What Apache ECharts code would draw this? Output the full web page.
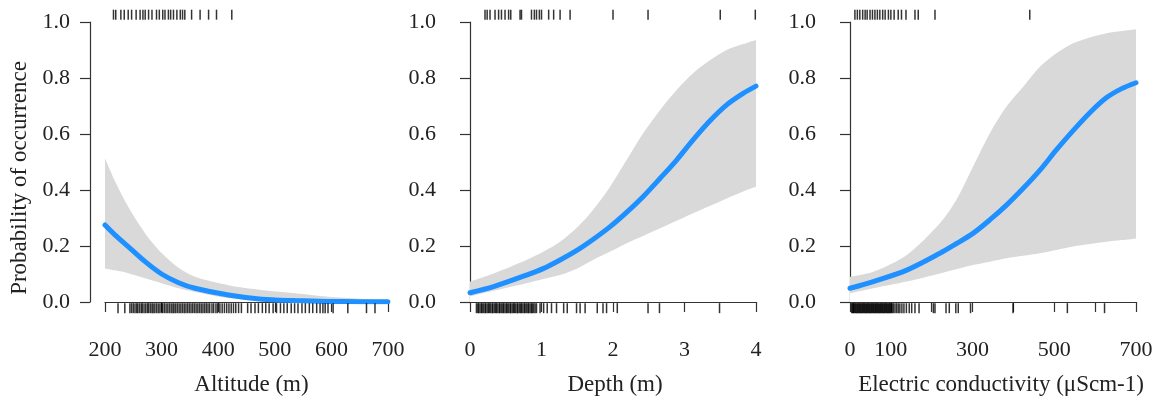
<!DOCTYPE html>
<html>
<head>
<meta charset="utf-8">
<title>Probability of occurrence</title>
<script src="https://cdn.jsdelivr.net/npm/echarts@6.0.0/dist/echarts.min.js"></script>
<style>
    html, body { margin: 0; padding: 0; background: #fff; }
    #main { width: 1163px; height: 401px; }
</style>
</head>
<body>
<div id="main"></div>
<script>
// ---- Altitude (m) ----
var altX   = [200, 218, 241, 271, 300, 330, 359, 418, 477, 536, 594, 650, 700];
var altFit = [0.275, 0.239, 0.198, 0.144, 0.100, 0.069, 0.049, 0.025, 0.010, 0.005, 0.002, 0.001, 0.0005];
var altLo  = [0.120, 0.113, 0.103, 0.085, 0.067, 0.049, 0.036, 0.014, 0.005, 0.002, 0.001, 0.000, 0.000];
var altHi  = [0.513, 0.430, 0.340, 0.245, 0.175, 0.122, 0.090, 0.060, 0.043, 0.031, 0.019, 0.012, 0.008];
var altAbsent = [223, 235, 244, 247, 250, 253, 256, 258, 261, 264, 266, 269, 272, 275, 277, 280, 283, 285,
    288, 291, 294, 297, 300, 302, 305, 308, 311, 314, 317, 320, 322, 325, 328, 331, 334, 337, 340, 343,
    346, 349, 352, 355, 358, 361, 364, 367, 370, 373, 376, 379, 382, 385, 389, 392, 396, 399, 403, 407,
    411, 415, 419, 423, 427, 431, 436, 441, 452, 458, 465, 471, 478, 484, 490, 497, 503, 510, 516, 522,
    529, 535, 541, 548, 554, 561, 567, 574, 580, 585, 589, 594, 603, 629, 662, 677];
var altPresent = [215, 219, 228, 234, 241, 247, 255, 262, 267, 271, 277, 283, 291, 296, 302, 306, 312,
    316, 321, 327, 333, 337, 341, 353, 368, 383, 397, 424];

// ---- Depth (m) ----
var depX   = [0, 0.33, 0.79, 1.03, 1.26, 1.5, 1.72, 1.96, 2.19, 2.42, 2.66, 2.89, 3.12, 3.36, 3.59, 3.82, 4];
var depFit = [0.033, 0.055, 0.096, 0.120, 0.150, 0.185, 0.223, 0.269, 0.320, 0.376, 0.442, 0.507, 0.579, 0.648, 0.704, 0.745, 0.771];
var depLo  = [0.020, 0.040, 0.067, 0.082, 0.096, 0.120, 0.150, 0.180, 0.210, 0.236, 0.263, 0.290, 0.317, 0.344, 0.370, 0.395, 0.412];
var depHi  = [0.073, 0.102, 0.150, 0.180, 0.215, 0.267, 0.329, 0.412, 0.507, 0.602, 0.686, 0.757, 0.817, 0.864, 0.900, 0.921, 0.936];
var depAbsent = [0.09, 0.11, 0.12, 0.14, 0.16, 0.17, 0.19, 0.21, 0.22, 0.24, 0.26, 0.27, 0.29, 0.31, 0.32,
    0.34, 0.36, 0.37, 0.39, 0.41, 0.42, 0.44, 0.46, 0.47, 0.49, 0.51, 0.52, 0.54, 0.56, 0.57, 0.59, 0.61,
    0.62, 0.64, 0.66, 0.67, 0.69, 0.71, 0.72, 0.74, 0.76, 0.77, 0.79, 0.81, 0.82, 0.84, 0.86, 0.87, 0.89,
    0.91, 0.93, 0.98, 1.03, 1.08, 1.14, 1.21, 1.31, 1.36, 1.49, 1.54, 1.61, 1.78, 1.86, 1.91, 2.06, 2.49,
    2.65, 3.49];
var depPresent = [0.21, 0.24, 0.28, 0.35, 0.40, 0.44, 0.49, 0.54, 0.57, 0.70, 0.72, 0.86, 0.90, 0.93,
    0.97, 1.00, 1.10, 1.17, 1.26, 1.40, 2.00, 2.49, 3.50, 3.99];

// ---- Electric conductivity ----
var ecX   = [0, 57, 139, 220, 260, 301, 342, 383, 424, 465, 505, 546, 587, 628, 665, 700];
var ecFit = [0.049, 0.073, 0.114, 0.174, 0.208, 0.245, 0.293, 0.346, 0.406, 0.471, 0.543, 0.612, 0.676, 0.730, 0.762, 0.783];
var ecLo  = [0.031, 0.049, 0.073, 0.102, 0.117, 0.132, 0.144, 0.156, 0.165, 0.174, 0.186, 0.198, 0.207, 0.215, 0.221, 0.227];
var ecHi  = [0.090, 0.108, 0.168, 0.281, 0.364, 0.483, 0.602, 0.698, 0.769, 0.840, 0.888, 0.924, 0.945, 0.960, 0.968, 0.974];
var ecAbsent = [4, 6, 8, 9, 11, 13, 15, 17, 19, 21, 23, 25, 27, 29, 31, 33, 35, 37, 39, 41, 43, 45, 47, 49,
    51, 53, 55, 57, 59, 61, 63, 65, 67, 69, 71, 73, 75, 77, 79, 81, 83, 85, 87, 89, 91, 93, 95, 97, 99, 101,
    103, 106, 110, 114, 118, 122, 127, 132, 138, 145, 151, 159, 169, 204, 208, 235, 243, 259, 265, 295,
    399, 532, 623];
var ecPresent = [12, 18, 24, 31, 37, 42, 49, 55, 61, 67, 73, 80, 86, 94, 100, 108, 118, 126, 137, 159,
    167, 208, 440];
var ecTickLabels = [0, 100, 300, 500, 700];

var xTitles = ['Altitude (m)', 'Depth (m)', 'Electric conductivity (\u03bcScm-1)'];
var yTitle = 'Probability of occurrence';

var FONT = 'Liberation Serif';
var AXIS_COLOR = '#333';

var chart = echarts.init(document.getElementById('main'));

function zip(xs, ys) {
    return xs.map(function (x, i) { return [x, ys[i]]; });
}

var grids = [
    {left: 105, top: 22, width: 283, height: 280},
    {left: 470, top: 22, width: 286, height: 280},
    {left: 850, top: 22, width: 286, height: 280}
];

var xRanges = [
    {min: 200, max: 700, interval: 100},
    {min: 0, max: 4, interval: 1},
    {min: 0, max: 700, interval: 100}
];
var namePad = [10, 4, 16]; // nudge titles a little to the right

var xAxes = xRanges.map(function (r, i) {
    return {
        type: 'value', gridIndex: i, position: 'bottom', offset: 12,
        min: r.min, max: r.max, interval: r.interval,
        name: xTitles[i], nameLocation: 'middle', nameGap: 59,
        nameTextStyle: {fontFamily: FONT, fontSize: 23, color: '#222', padding: [0, 0, 0, namePad[i]]},
        splitLine: {show: false},
        axisLine: {show: true, lineStyle: {color: AXIS_COLOR, width: 1.2}},
        axisTick: {show: true, length: 10, lineStyle: {color: AXIS_COLOR, width: 1.2}},
        axisLabel: {
            fontFamily: FONT, fontSize: 22, color: '#222', margin: 25,
            showMinLabel: true, showMaxLabel: true,
            formatter: function (v) {
                if (i == 2 && ecTickLabels.indexOf(v) < 0) return '';
                return String(v);
            }
        }
    };
});

var yOffsets = [15, 12, 12];
var yMargins = [20, 22, 22];
var yAxes = [0, 1, 2].map(function (i) {
    return {
        type: 'value', gridIndex: i, position: 'left', offset: yOffsets[i],
        min: 0, max: 1, interval: 0.2,
        splitLine: {show: false},
        axisLine: {show: true, lineStyle: {color: AXIS_COLOR, width: 1.2}},
        axisTick: {show: true, length: 10, lineStyle: {color: AXIS_COLOR, width: 1.2}},
        axisLabel: {
            fontFamily: FONT, fontSize: 22, color: '#222', margin: yMargins[i],
            formatter: function (v) { return v.toFixed(1); }
        }
    };
});
// hidden axes for the rugs: 0 sits just under the x axis line, 1 above the plot
[0, 1, 2].forEach(function (i) {
    yAxes.push({type: 'value', gridIndex: i, show: false, min: 0.021, max: 0.975});
});

var panels = [
    {x: altX, fit: altFit, lo: altLo, hi: altHi, r0: altAbsent, r1: altPresent},
    {x: depX, fit: depFit, lo: depLo, hi: depHi, r0: depAbsent, r1: depPresent},
    {x: ecX, fit: ecFit, lo: ecLo, hi: ecHi, r0: ecAbsent, r1: ecPresent}
];

var series = [];
panels.forEach(function (p, i) {
    // confidence band: grey area under the upper bound, cleared below the lower bound
    series.push({
        type: 'line', xAxisIndex: i, yAxisIndex: i, z: 1,
        data: zip(p.x, p.hi), symbol: 'none', smooth: 0.3, silent: true,
        lineStyle: {opacity: 0},
        areaStyle: {color: '#d9d9d9', opacity: 1}
    });
    series.push({
        type: 'line', xAxisIndex: i, yAxisIndex: i, z: 2,
        data: zip(p.x, p.lo), symbol: 'none', smooth: 0.3, silent: true,
        lineStyle: {opacity: 0},
        areaStyle: {color: '#fff', opacity: 1}
    });
    series.push({
        type: 'line', xAxisIndex: i, yAxisIndex: i, z: 5,
        data: zip(p.x, p.fit), symbol: 'none', smooth: 0.3,
        lineStyle: {color: '#1e90ff', width: 5, cap: 'round'}
    });
    series.push({
        type: 'scatter', xAxisIndex: i, yAxisIndex: i + 3, clip: false, z: 6,
        data: p.r0.map(function (v) { return [v, 0]; }),
        symbol: 'rect', symbolSize: [1.5, 10],
        itemStyle: {color: '#000'}
    });
    series.push({
        type: 'scatter', xAxisIndex: i, yAxisIndex: i + 3, clip: false, z: 6,
        data: p.r1.map(function (v) { return [v, 1]; }),
        symbol: 'rect', symbolSize: [1.5, 10],
        itemStyle: {color: '#000'}
    });
});

var option = {
    backgroundColor: '#fff',
    animation: false,
    grid: grids,
    xAxis: xAxes,
    yAxis: yAxes,
    graphic: [{
        type: 'text', x: 20, y: 178, rotation: Math.PI / 2,
        style: {
            text: yTitle, fontFamily: FONT, fontSize: 23, fill: '#222',
            align: 'center', verticalAlign: 'middle'
        }
    }],
    series: series
};
chart.setOption(option);
</script>
</body>
</html>
